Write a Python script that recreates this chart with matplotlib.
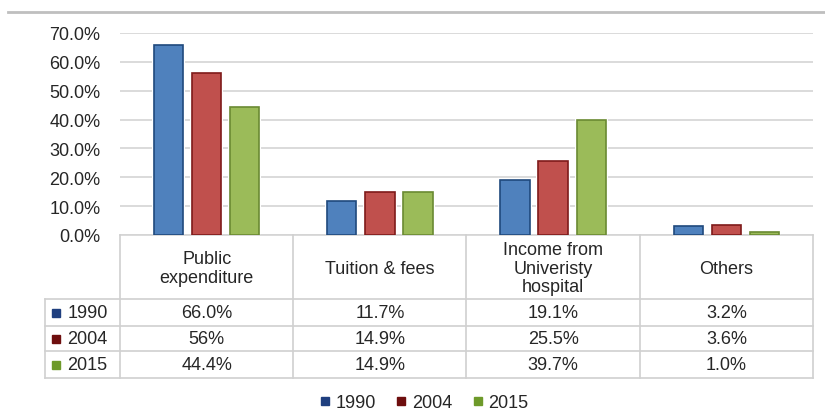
import numpy as np
import matplotlib
matplotlib.use("Agg")
import matplotlib.pyplot as plt
from matplotlib.lines import Line2D

plt.rcParams['font.family'] = ['Liberation Sans', 'DejaVu Sans']

# data
categories = ["Public\nexpenditure", "Tuition & fees",
              "Income from\nUniveristy\nhospital", "Others"]
years = ["1990", "2004", "2015"]
share_1990 = [66.0, 11.7, 19.1, 3.2]
share_2004 = [56.0, 14.9, 25.5, 3.6]
share_2015 = [44.4, 14.9, 39.7, 1.0]
table_1990 = ["66.0%", "11.7%", "19.1%", "3.2%"]
table_2004 = ["56%", "14.9%", "25.5%", "3.6%"]
table_2015 = ["44.4%", "14.9%", "39.7%", "1.0%"]
yticks = [0, 10, 20, 30, 40, 50, 60, 70]

fills = ["#4F81BD", "#C0504D", "#9BBB59"]
edges = ["#1F497D", "#7F1A1A", "#6A8A32"]
keys = ["#1F3F7F", "#6E0E0E", "#6E9A2A"]
grid_c = "#D4D4D4"
text_c = "#262626"
fs = 13

W, H = 825, 414
fig = plt.figure(figsize=(W / 100, H / 100), dpi=100)

def fx(px):
    return px / W

def fy(py):
    return 1 - py / H

# top frame line
fig.add_artist(Line2D([fx(8), fx(825)], [fy(13), fy(13)], color="#BFBFBF", lw=2))

# bar axes
ax_l, ax_r, ax_t, ax_b = 120, 813, 34, 236
ax = fig.add_axes([fx(ax_l), fy(ax_b), fx(ax_r - ax_l), fy(ax_t) - fy(ax_b)])
x = np.arange(len(categories))
bw = 0.17
step = 0.22
series = [share_1990, share_2004, share_2015]
for i, vals in enumerate(series):
    xs = x + (i - 1) * step
    ax.bar(xs, vals, bw, color="white", edgecolor="white", linewidth=3, zorder=2)
    ax.bar(xs, vals, bw, color=fills[i], edgecolor=edges[i], linewidth=1.2, zorder=3)

ax.set_xlim(-0.5, len(categories) - 0.5)
ax.set_ylim(0, 70)
ax.set_yticks(yticks)
ax.set_yticklabels([f"{v:.1f}%" for v in yticks], fontsize=fs, color=text_c)
ax.tick_params(axis="y", length=0, pad=14)
ax.set_xticks([])
for s in ["top", "right", "left"]:
    ax.spines[s].set_visible(False)
ax.spines["bottom"].set_color(grid_c)
ax.spines["bottom"].set_linewidth(1.2)
ax.grid(axis="y", color=grid_c, linewidth=1.2, zorder=0)
ax.set_axisbelow(True)

# data table below the bars, in the same x data units
tb_b = 379
tab = fig.add_axes([fx(ax_l), fy(tb_b), fx(ax_r - ax_l), fy(ax_b) - fy(tb_b)])
tab.set_xlim(-0.5, len(categories) - 0.5)
tab.set_ylim(tb_b - ax_b, 0)
tab.axis("off")
px_per_unit = (ax_r - ax_l) / len(categories)
lab_left = -0.5 - (ax_l - 45) / px_per_unit
row_edges = [0, 300 - ax_b, 327 - ax_b, 352 - ax_b, tb_b - ax_b]
lc = "#D0D0D0"
# vertical lines
for k in range(len(categories) + 1):
    tab.plot([k - 0.5, k - 0.5], [0, row_edges[-1]], color=lc, lw=1.2, clip_on=False)
tab.plot([lab_left, lab_left], [row_edges[1], row_edges[-1]], color=lc, lw=1.2, clip_on=False)
for y in row_edges[1:]:
    tab.plot([lab_left, len(categories) - 0.5], [y, y], color=lc, lw=1.2, clip_on=False)

hdr_y = (row_edges[0] + row_edges[1]) / 2 + 1
for k, c in enumerate(categories):
    tab.text(k, hdr_y, c, ha="center", va="center", fontsize=fs, color=text_c,
             linespacing=1.12)

rows = [table_1990, table_2004, table_2015]
for r, vals in enumerate(rows):
    yc = (row_edges[r + 1] + row_edges[r + 2]) / 2
    for k, v in enumerate(vals):
        tab.text(k, yc, v, ha="center", va="center", fontsize=fs, color=text_c)
    tab.plot([lab_left + 0.065], [yc], marker="s", ms=6, color=keys[r], clip_on=False)
    tab.text(lab_left + 0.13, yc, years[r], ha="left", va="center", fontsize=fs,
             color=text_c, clip_on=False)

# legend
handles = [Line2D([], [], marker="s", ls="none", ms=6, color=keys[i]) for i in range(3)]
fig.legend(handles, years, loc="center", bbox_to_anchor=(fx(424), fy(404)), ncol=3,
           frameon=False, fontsize=fs, handlelength=0.6, handletextpad=0.3,
           columnspacing=1.1, labelcolor=text_c)

fig.savefig("out.png", dpi=100)
